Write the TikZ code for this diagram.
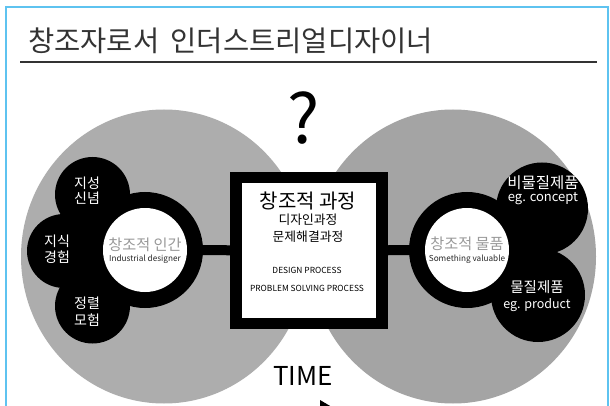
\documentclass[tikz,border=0pt]{standalone}
\usepackage{fontspec}
\setmainfont{Noto Sans CJK KR}
\definecolor{bordercol}{HTML}{5EC3F0}
\definecolor{greyL}{HTML}{ADADAD}
\definecolor{greyR}{HTML}{A4A4A4}
\definecolor{softtext}{HTML}{999999}
\definecolor{titlecol}{HTML}{333333}
\begin{document}
\begin{tikzpicture}[x=1pt,y=-1pt]
\tikzset{
  petal/.style={circle, fill=black, inner sep=0pt, minimum size=#1pt},
  hole/.style={circle, fill=white, inner sep=0pt, minimum size=#1pt},
  txt/.style={inner sep=0pt, font=\fontsize{#1}{#1}\selectfont},
  wtxt/.style={txt=#1, text=white},
  bar/.style={line width=10pt, black}
}
\useasboundingbox (0,0) rectangle (610,406);
\clip (0,0) rectangle (610,406);
\fill[white] (0,0) rectangle (610,406);
\draw[bordercol, line width=1.6pt] (6,7) rectangle (608,440);
% title
\node[txt=28.5, text=titlecol, anchor=west] (title) at (28,41) {창조자로서\hspace{0.4em}인더스트리얼디자이너};
\draw[line width=1.2pt, titlecol] (20,62) -- (597,62);
% big grey discs
\fill[greyL] (164,256.5) ellipse [x radius=143, y radius=147];
\fill[greyR] (453,256.5) ellipse [x radius=143, y radius=147];
% question mark and time
\node[txt=68] (q) at (304,118) {?};
\node[txt=26] (time) at (303,376) {TIME};
\fill[black] (320,400) -- (337,410) -- (320,420) -- cycle;
% left flower
\node[petal=75] (p1) at (92.5,194.5) {};
\node[petal=74] (p2) at (64,251) {};
\node[petal=75] (p3) at (92.5,306) {};
\node[petal=116] (lring) at (145,250) {};
\node[hole=84] (lhole) at (145,250) {};
% right flower
\node[petal=92] (r1) at (542,208.5) {};
\node[petal=94] (r2) at (538,295) {};
\node[petal=116] (rring) at (467,250) {};
\node[hole=84] (rhole) at (467,250) {};
% central box
\node[draw=black, line width=11.5pt, fill=white, minimum width=146pt, minimum height=145.5pt, inner sep=0pt] (box) at (309,250.5) {};
\draw[bar] (lring) -- (box);
\draw[bar] (rring) -- (box);
% box texts
\node[txt=20] (b1) at (308,201) {창조적 과정};
\node[txt=12.8] (b2) at (308,220) {디자인과정};
\node[txt=12.8] (b3) at (308,237) {문제해결과정};
\node[txt=8.4] (b4) at (307,270) {DESIGN PROCESS};
\node[txt=8.4] (b5) at (307,288) {PROBLEM SOLVING PROCESS};
% left texts
\node[txt=15.2, text=softtext] (l1) at (145,245) {창조적 인간};
\node[txt=8.2, text=black!85] (l2) at (145,259.5) {Industrial designer};
\node[wtxt=14] (pa) at (87,183.5) {지성};
\node[wtxt=14] (pb) at (87,198.5) {신념};
\node[wtxt=14] (pc) at (57,241) {지식};
\node[wtxt=14] (pd) at (57,257) {경험};
\node[wtxt=14] (pe) at (87,303.5) {정렬};
\node[wtxt=14] (pf) at (87,320) {모험};
% right texts
\node[txt=15.2, text=softtext] (m1) at (467,243.5) {창조적 물품};
\node[txt=8.2, text=black!85] (m2) at (467,259.5) {Something valuable};
\node[wtxt=15.5] (ra) at (543,182.5) {비물질제품};
\node[wtxt=13] (rb) at (543,198.5) {eg. concept};
\node[wtxt=14.5] (rc) at (537,287.5) {물질제품};
\node[wtxt=12.5] (rd) at (537,305) {eg. product};
\end{tikzpicture}
\end{document}
